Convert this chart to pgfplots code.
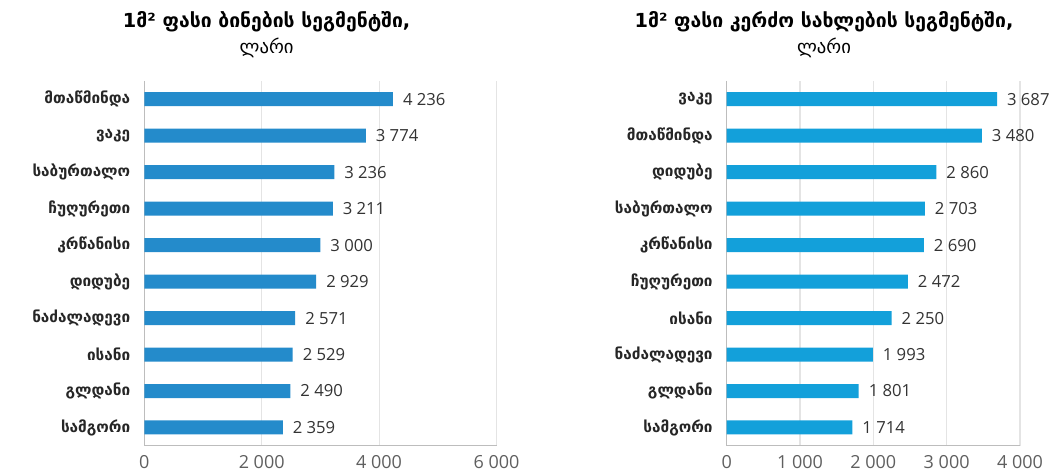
\documentclass[border=0pt]{standalone}
\usepackage{fontspec}
\setmainfont{Open Sans}
\newfontfamily\geo{DejaVu Sans}
\usepackage{pgfplots}
\pgfplotsset{compat=1.18}
\usepackage{pgfplotstable}

\definecolor{barL}{HTML}{248BCB}
\definecolor{barR}{HTML}{13A0DA}
\definecolor{gridc}{HTML}{E4E4E4}
\definecolor{axisc}{HTML}{BDBDBD}
\definecolor{tickc}{HTML}{5F5F5F}
\definecolor{valc}{HTML}{333333}
\definecolor{catc}{HTML}{262626}

% flats (left) and private houses (right), GEL per m2
\pgfplotstableread{
idx value
0 4236
1 3774
2 3236
3 3211
4 3000
5 2929
6 2571
7 2529
8 2490
9 2359
}\flats

\pgfplotstableread{
idx value
0 3687
1 3480
2 2860
3 2703
4 2690
5 2472
6 2250
7 1993
8 1801
9 1714
}\houses

\pgfplotsset{
  /pgf/number format/1000 sep={\ },
  /pgf/number format/assume math mode=true,
  districts/.style={
    xbar, bar width=10.5pt,
    scale only axis, height=273.6pt,
    anchor=south west,
    xmin=0, ymin=-0.5, ymax=9.5, y dir=reverse,
    ytick={0,...,9},
    axis x line=bottom, axis y line=left,
    axis line style={-, draw=axisc, line width=0.8pt},
    major tick length=0pt,
    xmajorgrids, grid style={draw=gridc, line width=0.8pt},
    xticklabel style={font=\fontsize{13.5}{15}\selectfont, text=tickc, yshift=-3.5pt},
    yticklabel style={font=\geo\bfseries\fontsize{11.5}{13}\selectfont, text=catc, xshift=-7pt},
    nodes near coords,
    nodes near coords style={font=\fontsize{12.5}{14}\selectfont, text=valc, xshift=4pt},
  }
}

\begin{document}
\begin{tikzpicture}
\useasboundingbox (0,0) rectangle (798pt,-355.5pt);

\node[font=\geo\bfseries\fontsize{14.5}{16}\selectfont] at (200pt,-16.5pt) {1მ² ფასი ბინების სეგმენტში,};
\node[font=\geo\fontsize{14}{16}\selectfont] at (200pt,-36pt) {ლარი};
\node[font=\geo\bfseries\fontsize{14.5}{16}\selectfont] at (618pt,-16.5pt) {1მ² ფასი კერძო სახლების სეგმენტში,};
\node[font=\geo\fontsize{14}{16}\selectfont] at (618pt,-36pt) {ლარი};

\begin{axis}[districts,
  at={(108.2pt,-334.3pt)}, width=264.2pt,
  xmax=6000, xtick={0,2000,4000,6000},
  yticklabels={მთაწმინდა, ვაკე, საბურთალო, ჩუღურეთი, კრწანისი, დიდუბე, ნაძალადევი, ისანი, გლდანი, სამგორი},
]
\addplot[fill=barL, draw=none] table[x=value, y=idx] {\flats};
\end{axis}

\begin{axis}[districts,
  at={(545pt,-334.3pt)}, width=220pt,
  xmax=4000, xtick={0,1000,2000,3000,4000},
  yticklabels={ვაკე, მთაწმინდა, დიდუბე, საბურთალო, კრწანისი, ჩუღურეთი, ისანი, ნაძალადევი, გლდანი, სამგორი},
]
\addplot[fill=barR, draw=none] table[x=value, y=idx] {\houses};
\end{axis}
\end{tikzpicture}
\end{document}
